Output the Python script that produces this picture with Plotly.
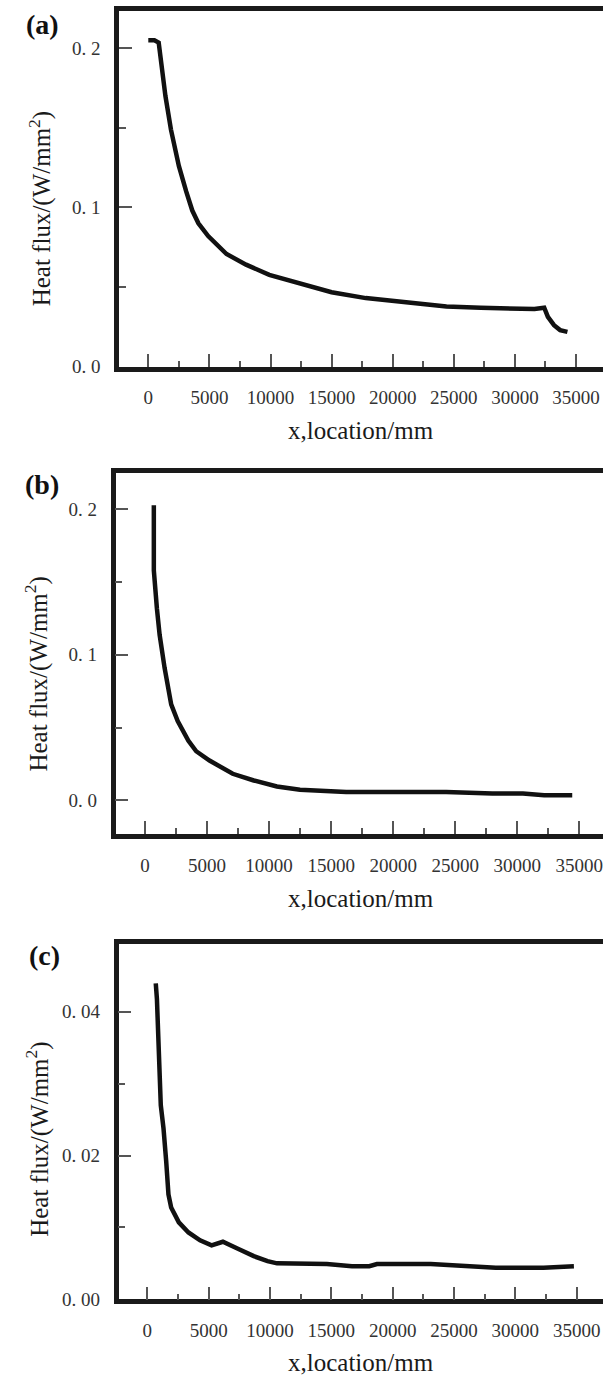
import plotly.graph_objects as go

# ---------------- data ----------------
xa = [0, 500, 850, 1050, 1400, 1850, 2500, 3100, 3600, 4100, 4900, 6400, 8000, 9900,
      12400, 15000, 17800, 21000, 24400, 27200, 29700, 31600, 32400, 32700, 33200, 33700, 34300]
ya = [0.205, 0.205, 0.2035, 0.19, 0.17, 0.149, 0.126, 0.11, 0.098, 0.09, 0.082, 0.0707, 0.064,
      0.0576, 0.052, 0.0467, 0.043, 0.0405, 0.0378, 0.037, 0.0361, 0.0361, 0.037, 0.0312,
      0.026, 0.0229, 0.0218]

xb = [712, 712, 960, 1180, 1580, 2110, 2635, 3500, 4125, 5200, 7070, 8770, 10630, 12490,
      16210, 24270, 27990, 30460, 32170, 34430]
yb = [0.2027, 0.158, 0.1318, 0.1136, 0.0909, 0.0659, 0.0545, 0.0409, 0.0337, 0.0273, 0.0182,
      0.0136, 0.0095, 0.0073, 0.0057, 0.0057, 0.0046, 0.0046, 0.0034, 0.0034]

xc = [690, 785, 1100, 1320, 1540, 1725, 1945, 2570, 3355, 4300, 5240, 6160, 7430, 8680, 9800,
      10570, 14640, 16680, 18090, 18720, 23100, 25610, 28400, 32300, 33400, 34770]
yc = [0.04396, 0.04175, 0.027, 0.0238, 0.0192, 0.0146, 0.01277, 0.0107, 0.0093, 0.0082, 0.0075,
      0.0080, 0.0070, 0.0060, 0.0053, 0.0050, 0.0049, 0.0046, 0.0046, 0.0049, 0.0049, 0.0047,
      0.0044, 0.0044, 0.0045, 0.0046]

x_ticks = [0, 5000, 10000, 15000, 20000, 25000, 30000, 35000]
x_ticktext = [str(v) for v in x_ticks]
x_minor = [2500, 7500, 12500, 17500, 22500, 27500, 32500]

ya_ticks = [0.0, 0.1, 0.2]
ya_text = ["0. 0", "0. 1", "0. 2"]
ya_minor = [0.05, 0.15]
yb_ticks = [0.0, 0.1, 0.2]
yb_text = ["0. 0", "0. 1", "0. 2"]
yb_minor = [0.05, 0.15]
yc_ticks = [0.0, 0.02, 0.04]
yc_text = ["0. 00", "0. 02", "0. 04"]
yc_minor = [0.01, 0.03]

y_title = "Heat flux/(W/mm<sup>2</sup>)"
x_title = "x,location/mm"
panel_labels = ["(a)", "(b)", "(c)"]

# ---------------- layout ----------------
W, H = 603, 1383
SERIF = "Liberation Serif, Times New Roman, serif"
FRAME = "#1a1a1a"
TICKC = "#555555"


def xd(left, right):
    return [left / W, right / W]


def yd(top, bottom):
    return [1 - bottom / H, 1 - top / H]


fig = go.Figure()
for i, (xs, ys) in enumerate([(xa, ya), (xb, yb), (xc, yc)], start=1):
    fig.add_trace(go.Scatter(x=xs, y=ys, mode="lines", xaxis=f"x{'' if i == 1 else i}",
                             yaxis=f"y{'' if i == 1 else i}",
                             line=dict(color="#111111", width=4.5), showlegend=False,
                             hoverinfo="skip"))


def xaxis(dom, rng, anchor):
    return dict(domain=dom, range=rng, anchor=anchor, showline=True, linewidth=4.5,
                linecolor=FRAME, mirror=True, showgrid=False, zeroline=False,
                tickmode="array", tickvals=x_ticks, ticktext=x_ticktext,
                ticks="inside", ticklen=13, tickwidth=1.5, tickcolor=TICKC,
                ticklabelstandoff=10, ticklabeloverflow="allow",
                minor=dict(tickmode="array", tickvals=x_minor, ticks="inside", ticklen=6,
                           tickwidth=1.5, tickcolor=TICKC),
                tickfont=dict(family=SERIF, size=19, color="#333333"))


def yaxis(dom, rng, anchor, tv, tt, mv):
    return dict(domain=dom, range=rng, anchor=anchor, showline=True, linewidth=4.5,
                linecolor=FRAME, mirror=False, showgrid=False, zeroline=False,
                tickmode="array", tickvals=tv, ticktext=tt,
                ticks="inside", ticklen=13, tickwidth=1.5, tickcolor=TICKC,
                ticklabelstandoff=10, ticklabeloverflow="allow",
                minor=dict(tickmode="array", tickvals=mv, ticks="inside", ticklen=7,
                           tickwidth=1.5, tickcolor=TICKC),
                tickfont=dict(family=SERIF, size=19, color="#333333"))


fig.update_layout(
    width=W, height=H, margin=dict(l=0, r=0, t=0, b=0),
    paper_bgcolor="white", plot_bgcolor="white",
    xaxis=xaxis(xd(119, W), [-2398, 37210], "y"),
    yaxis=yaxis(yd(11, 369.5), [0, 0.2234], "x", ya_ticks, ya_text, ya_minor),
    xaxis2=xaxis(xd(115.5, W), [-2377, 36909], "y2"),
    yaxis2=yaxis(yd(477, 840.7), [-0.02318, 0.22475], "x2", yb_ticks, yb_text, yb_minor),
    xaxis3=xaxis(xd(118.5, W), [-2347, 37142], "y3"),
    yaxis3=yaxis(yd(952, 1309.7), [0, 0.04937], "x3", yc_ticks, yc_text, yc_minor),
)

ann = []
# y titles
for cx, cy in [(40, 210), (37, 679), (38, 1148)]:
    ann.append(dict(text=y_title, x=cx / W, y=1 - cy / H, xref="paper", yref="paper",
                    xanchor="center", yanchor="middle", textangle=-90, showarrow=False,
                    font=dict(family=SERIF, size=25, color="#1a1a1a")))
# x titles
for cy in [434, 906, 1373]:
    ann.append(dict(text=x_title, x=361 / W, y=1 - cy / H, xref="paper", yref="paper",
                    xanchor="center", yanchor="middle", showarrow=False,
                    font=dict(family=SERIF, size=25, color="#1a1a1a")))
# panel labels
for lab, (cx, cy) in zip(panel_labels, [(42, 25), (42, 488), (44, 963)]):
    ann.append(dict(text=f"<b>{lab}</b>", x=cx / W, y=1 - cy / H, xref="paper", yref="paper",
                    xanchor="center", yanchor="middle", showarrow=False,
                    font=dict(family=SERIF, size=28, color="#111111")))
fig.update_layout(annotations=ann)

fig.write_html(
    "out.html",
    config={"displayModeBar": False},
    post_script="document.body.style.margin='0';document.body.style.padding='0';"
                "document.body.style.overflow='hidden';"
                "document.documentElement.style.overflow='hidden';",
)
